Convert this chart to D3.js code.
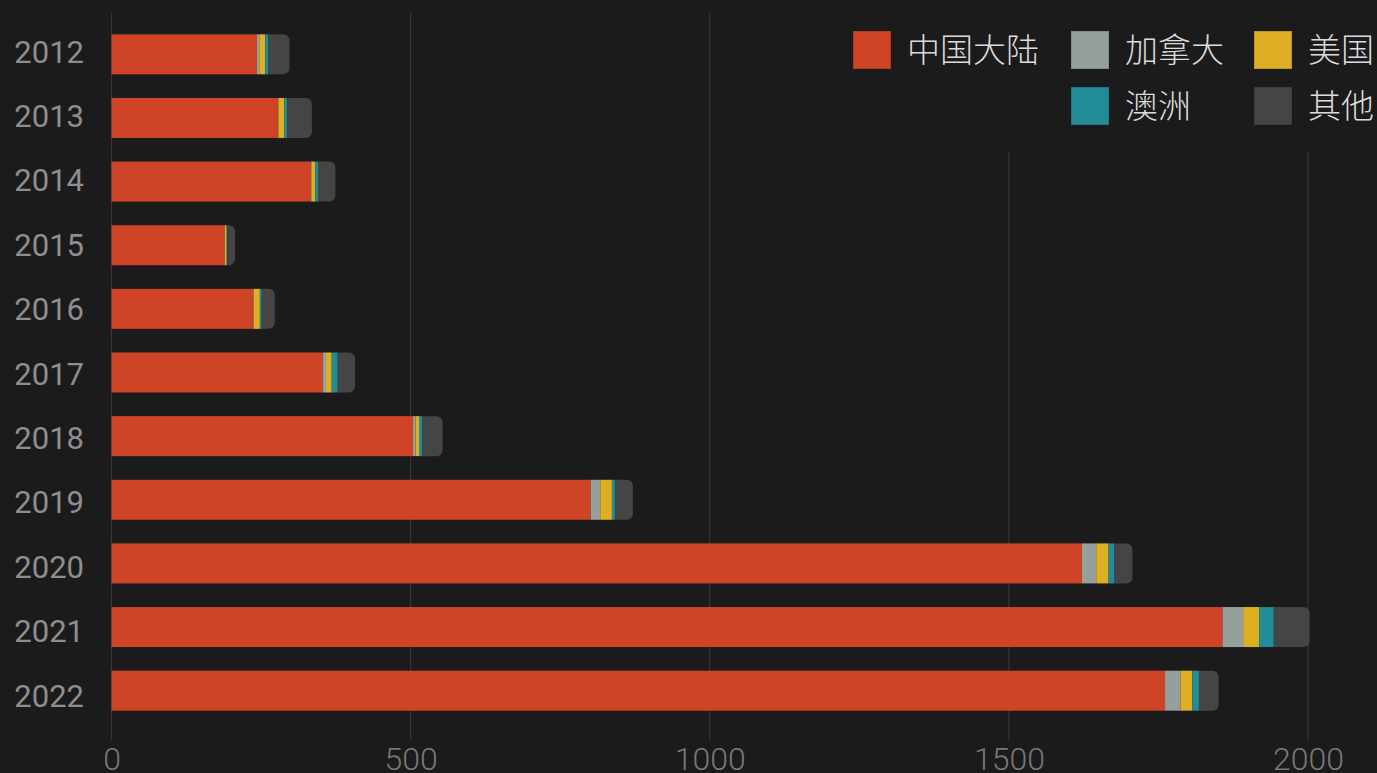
<!DOCTYPE html>
<html><head><meta charset="utf-8">
<script src="https://cdn.jsdelivr.net/npm/d3@7"></script>
<style>
html,body{margin:0;padding:0;background:#1b1b1b;}
svg{display:block;}
</style></head>
<body>
<svg id="c" width="1377" height="773"></svg>
<script>
const years = ["2012","2013","2014","2015","2016","2017","2018","2019","2020","2021","2022"];
const seriesNames = ["中国大陆","加拿大","美国","澳洲","其他"];
const mainland = [243, 278, 333, 189, 237, 353, 504, 801, 1622, 1857, 1761];
const canada   = [4, 1, 1, 0.5, 1, 5.6, 4, 16, 24, 34.5, 25.7];
const usa      = [10, 10, 6.7, 3, 10, 9.5, 6, 19.5, 20.6, 26.8, 20];
const australia= [5.5, 5, 4.5, 1, 3, 10, 5.6, 5, 10, 24.5, 11];
const others   = [35, 41, 29, 13, 22, 29, 34, 30, 30, 60, 33];
const xTicks = [0, 500, 1000, 1500, 2000];
const colors = ["#cf4327","#979f9c","#deaf22","#238c99","#454545"];

const svg = d3.select("#c");
const x = d3.scaleLinear().domain([0, 2000]).range([111.5, 1308]);
const y = d3.scaleBand().domain(years).range([22.5, 722.5]).paddingInner(0.3715).paddingOuter(0.18575);
const yLabel = d3.scalePoint().domain(years).range([51, 695]);

// grid
const g = svg.append("g");
g.selectAll("line.grid").data(xTicks).join("line")
  .attr("x1", d => x(d)).attr("x2", d => x(d))
  .attr("y1", 13).attr("y2", 740)
  .attr("stroke", "#363636").attr("stroke-width", 1.2);

// x axis labels
const xAxis = d3.axisBottom(x).tickValues(xTicks).tickSize(0).tickPadding(0).tickFormat(d3.format("d"));
const xa = svg.append("g").attr("transform", "translate(0,770)").call(xAxis);
xa.select(".domain").remove();
xa.selectAll("text").attr("fill", "#777777").attr("font-family", "Roboto").attr("font-weight", 300)
  .attr("font-size", 32).attr("y", 0).attr("dy", 0);

// y axis labels
const yAxis = d3.axisLeft(yLabel).tickSize(0).tickPadding(0);
const ya = svg.append("g").attr("transform", "translate(84,0)").call(yAxis);
ya.select(".domain").remove();
ya.selectAll("text").attr("fill", "#8e8e8e").attr("font-family", "Roboto").attr("font-weight", 400)
  .attr("font-size", 31).attr("dy", "0.355em");

// stacked bars
const data = years.map((yr, i) => ({year: yr, "中国大陆": mainland[i], "加拿大": canada[i], "美国": usa[i], "澳洲": australia[i], "其他": others[i]}));
const stack = d3.stack().keys(seriesNames)(data);
const r = 6;
stack.forEach((layer, li) => {
  const grp = svg.append("g").attr("fill", colors[li]);
  layer.forEach((seg, i) => {
    const x0 = x(seg[0]), x1 = x(seg[1]);
    const y0 = y(years[i]), h = y.bandwidth();
    if (li === stack.length - 1) {
      const w = x1 - x0;
      const rr = Math.min(r, w);
      const p = d3.path();
      p.moveTo(x0, y0);
      p.lineTo(x1 - rr, y0);
      p.arcTo(x1, y0, x1, y0 + rr, rr);
      p.lineTo(x1, y0 + h - rr);
      p.arcTo(x1, y0 + h, x1 - rr, y0 + h, rr);
      p.lineTo(x0, y0 + h);
      p.closePath();
      grp.append("path").attr("d", p.toString());
    } else {
      grp.append("rect").attr("x", x0).attr("y", y0).attr("width", Math.max(0, x1 - x0)).attr("height", h);
    }
  });
});

// legend
const leg = svg.append("g");
leg.append("rect").attr("x", 840).attr("y", 12).attr("width", 537).attr("height", 140).attr("fill", "#1b1b1b");
const colX = [853, 1071, 1254];
const rowY = [31, 87];
const legendItems = [[0,0,0],[1,0,1],[2,0,2],[3,1,1],[4,1,2]];
legendItems.forEach(([si, row, col]) => {
  leg.append("rect").attr("x", colX[col] + 0.5).attr("y", rowY[row] + 0.5).attr("width", 37).attr("height", 37)
    .attr("fill", colors[si]).attr("stroke", d3.color(colors[si]).darker(0.4)).attr("stroke-width", 1);
  leg.append("text").attr("x", colX[col] + 54).attr("y", rowY[row] + 19).attr("dy", "0.36em")
    .attr("fill", "#dcdcdc").attr("font-family", "Noto Sans CJK SC").attr("font-weight", 300).attr("font-size", 33)
    .text(seriesNames[si]);
});
</script>
</body></html>
